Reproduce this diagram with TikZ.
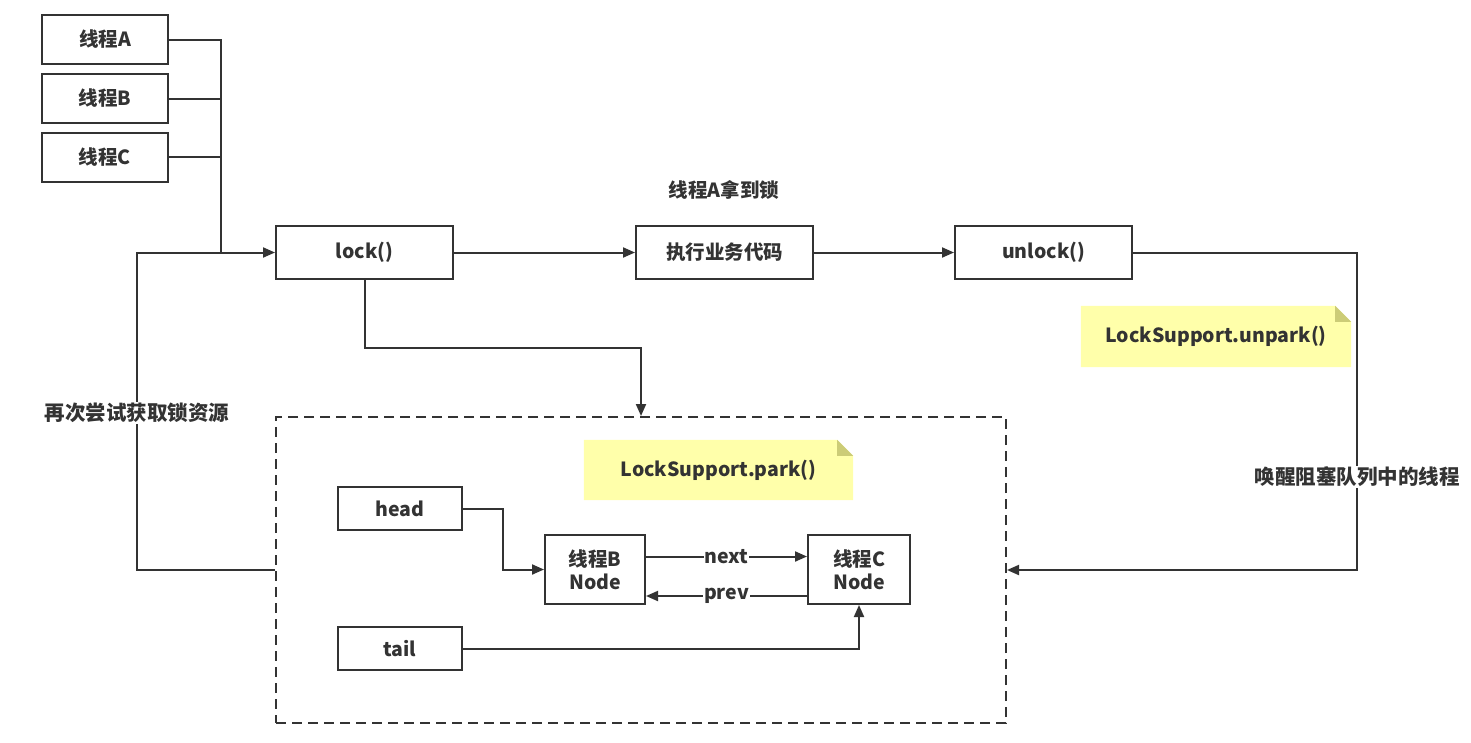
\documentclass[tikz,border=0pt]{standalone}
\usepackage{fontspec}
\setmainfont{Noto Sans CJK SC}
\usetikzlibrary{arrows.meta,backgrounds}
\definecolor{lc}{HTML}{333333}
\definecolor{tc}{HTML}{333333}
\definecolor{notey}{HTML}{FFFFAA}
\definecolor{notef}{HTML}{CCCC77}
\tikzset{
  box/.style={draw=lc, fill=white, line width=2pt, text=tc, inner sep=0pt,
    font=\fontsize{19.5}{23}\selectfont\bfseries, align=center},
  notetext/.style={inner sep=0pt, text=tc, font=\fontsize{19.5}{23}\selectfont\bfseries},
  lbl/.style={inner sep=1pt, text=tc, fill=white, font=\fontsize{19.5}{23}\selectfont\bfseries},
  cjklbl/.style={lbl, font=\fontsize{20.5}{24}\selectfont\bfseries},
  conn/.style={draw=lc, line width=2pt},
  arr/.style={conn, -{Triangle[length=12pt,width=10pt]}},
  qdash/.style={draw=lc, line width=2pt, dash pattern=on 10pt off 6pt}
}
\begin{document}
\begin{tikzpicture}[x=1pt,y=-1pt]
\useasboundingbox (0,0) rectangle (1471,742);
% thread boxes
\node[box, minimum width=126pt, minimum height=49pt] (tA) at (105,39.5) {线程A};
\node[box, minimum width=126pt, minimum height=49pt] (tB) at (105,98.5) {线程B};
\node[box, minimum width=126pt, minimum height=49pt] (tC) at (105,157) {线程C};
% main line
\node[box, minimum width=177pt, minimum height=53pt] (lock) at (364.5,252.5) {lock()};
\node[box, minimum width=177pt, minimum height=53pt] (exec) at (724.5,252.5) {执行业务代码};
\node[box, minimum width=177pt, minimum height=53pt] (unlock) at (1043.5,252.5) {unlock()};
\node[notetext] (gotlock) at (724,190) {线程A拿到锁};
% queue box
\node[qdash, minimum width=730pt, minimum height=306pt, inner sep=0pt] (qbox) at (641,570) {};
% notes
\node[notetext, minimum width=270pt, minimum height=61pt] (n1) at (1216,336.5) {LockSupport.unpark()};
\node[notetext, minimum width=269pt, minimum height=60pt] (n2) at (718.5,470) {LockSupport.park()};
\begin{scope}[on background layer]
\fill[notey] (n1.south west) -- (n1.north west) -- ([xshift=-16pt]n1.north east) -- ([yshift=-16pt]n1.north east) -- (n1.south east) -- cycle;
\fill[notef] ([xshift=-16pt]n1.north east) -- ([yshift=-16pt]n1.north east) -- ([xshift=-16pt,yshift=-16pt]n1.north east) -- cycle;
\fill[notey] (n2.south west) -- (n2.north west) -- ([xshift=-16pt]n2.north east) -- ([yshift=-16pt]n2.north east) -- (n2.south east) -- cycle;
\fill[notef] ([xshift=-16pt]n2.north east) -- ([yshift=-16pt]n2.north east) -- ([xshift=-16pt,yshift=-16pt]n2.north east) -- cycle;
\end{scope}
% queue contents
\node[box, minimum width=124pt, minimum height=43pt] (head) at (400,508.5) {head};
\node[box, minimum width=124pt, minimum height=43pt] (tail) at (400,648.5) {tail};
\node[box, minimum width=100pt, minimum height=69pt] (bn) at (595,569.5) {线程B\\Node};
\node[box, minimum width=102pt, minimum height=69pt] (cn) at (859,569.5) {线程C\\Node};
% coordinates
\coordinate (bus) at (221,252.5);
\coordinate (lp1) at (137,570);
\coordinate (dn1) at (364.5,348);
\coordinate (rt1) at (1357,252.5);
\coordinate (hd1) at (503,508.5);
% connectors
\draw[conn] (tA.east) -| (bus);
\draw[conn] (tB.east) -- (tB.east -| bus);
\draw[conn] (tC.east) -- (tC.east -| bus);
\draw[arr] (qbox.west) -- (lp1) |- (lock.west);
\draw[arr] (lock.east) -- (exec.west);
\draw[arr] (exec.east) -- (unlock.west);
\draw[arr] (lock.south) -- (dn1) -| (qbox.north);
\draw[arr] (unlock.east) -- (rt1) |- (qbox.east);
\draw[arr] (head.east) -- (hd1) |- (bn.west);
\draw[arr] (tail.east) -| (cn.south);
\draw[arr] ([yshift=13pt]bn.east) -- ([yshift=13pt]cn.west) node[lbl, midway] (nextl) {next};
\draw[arr] ([yshift=-26.5pt]cn.west) -- ([yshift=-26.5pt]bn.east) node[lbl, midway] (prevl) {prev};
% labels on lines
\node[cjklbl] (retry) at (137,413) {再次尝试获取锁资源};
\node[cjklbl] (wake) at (1357,477) {唤醒阻塞队列中的线程};
\end{tikzpicture}
\end{document}
